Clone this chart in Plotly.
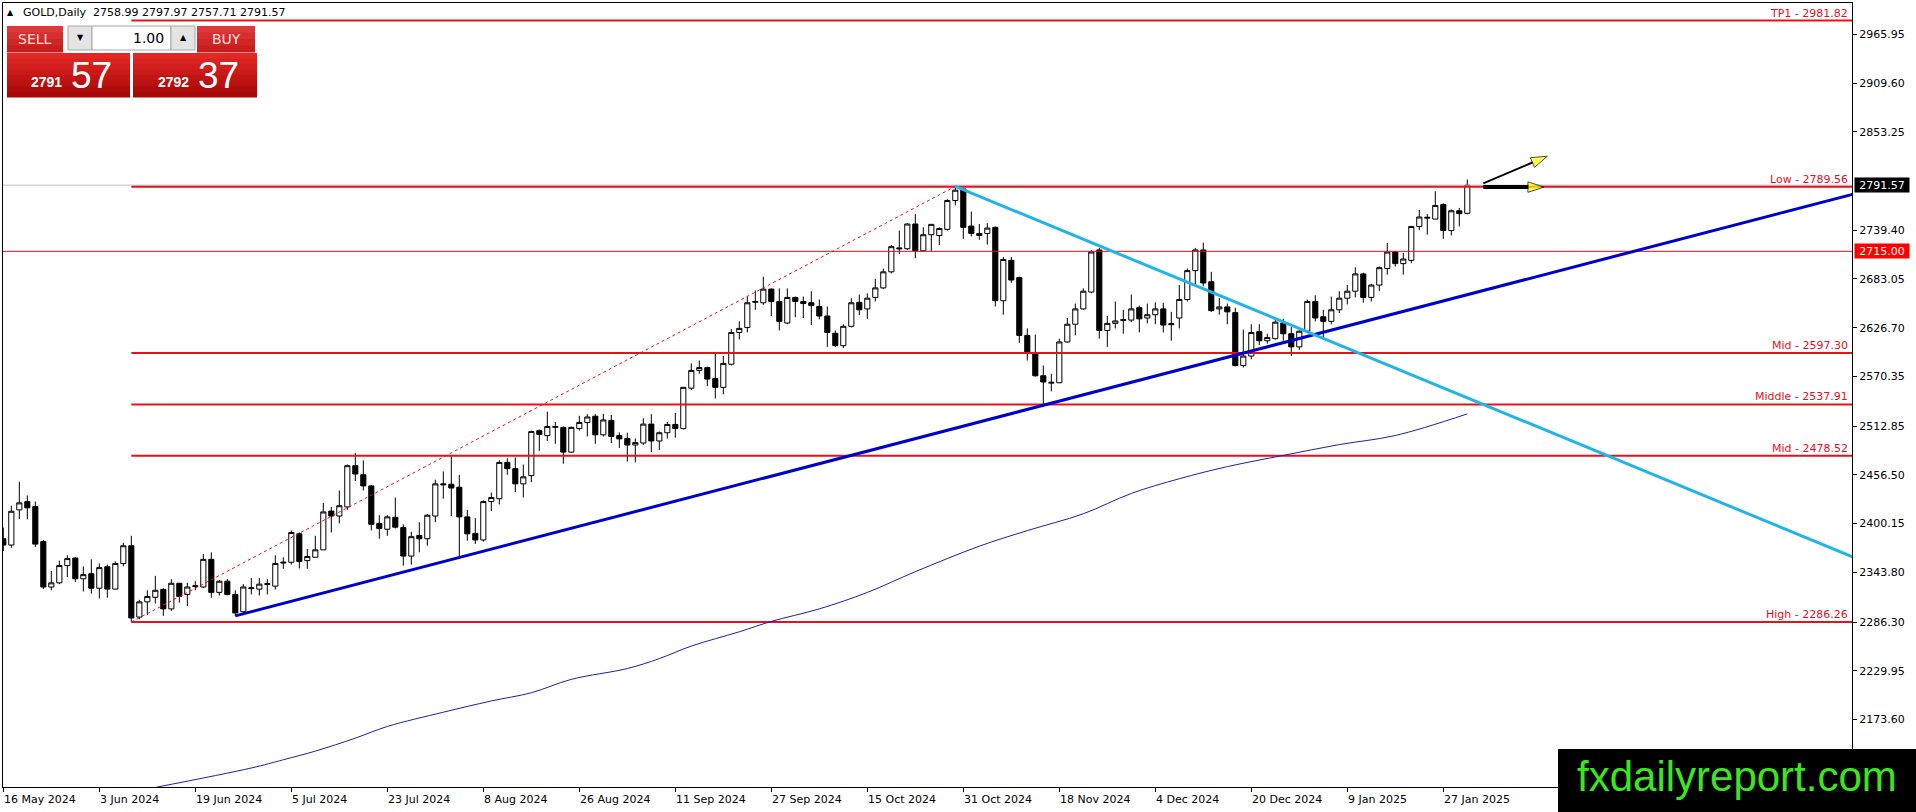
import plotly.graph_objects as go
import pandas as pd

# daily bars, one per weekday from 16 May 2024 (broker closed on the holidays)
start_day = "2024-05-16"
end_day = "2025-01-30"
holidays = ["2024-12-25", "2025-01-01"]

opens = [
    2382.6, 2375.3, 2416.0, 2425.6, 2419.8, 2379.3, 2326.8, 2331.6, 2351.6, 2360.2,
    2336.3, 2342.1, 2325.4, 2350.2, 2324.4, 2354.0, 2374.5, 2292.0, 2309.6, 2314.9,
    2324.0, 2301.5, 2331.1, 2318.2, 2327.3, 2326.8, 2358.8, 2320.6, 2333.5, 2318.2,
    2298.2, 2324.9, 2324.4, 2329.7, 2327.8, 2354.5, 2355.4, 2388.4, 2357.3, 2361.2,
    2369.8, 2414.6, 2408.9, 2419.4, 2467.1, 2456.6, 2443.7, 2400.3, 2393.6, 2407.4,
    2395.5, 2362.6, 2386.4, 2382.6, 2408.9, 2446.1, 2445.6, 2442.2, 2407.9, 2388.8,
    2381.2, 2425.6, 2428.9, 2470.9, 2463.7, 2446.1, 2455.6, 2507.6, 2501.9, 2511.4,
    2511.4, 2482.8, 2510.0, 2517.1, 2524.3, 2502.8, 2519.5, 2501.9, 2498.6, 2491.0,
    2493.3, 2515.2, 2495.7, 2505.2, 2514.8, 2510.0, 2556.8, 2577.3, 2580.6, 2567.8,
    2557.7, 2584.4, 2621.2, 2626.9, 2656.0, 2655.5, 2671.3, 2657.0, 2632.1, 2661.7,
    2657.0, 2655.5, 2651.2, 2640.2, 2620.2, 2605.9, 2628.3, 2656.0, 2648.4, 2661.7,
    2672.7, 2691.3, 2719.0, 2718.0, 2746.6, 2715.6, 2734.2, 2733.3, 2740.4, 2773.8,
    2787.2, 2744.2, 2733.3, 2735.7, 2742.8, 2657.9, 2704.6, 2684.6, 2617.8, 2596.4,
    2571.1, 2562.5, 2563.0, 2610.2, 2630.7, 2648.4, 2667.9, 2716.6, 2623.5, 2631.7,
    2635.0, 2635.5, 2649.8, 2637.9, 2641.7, 2648.4, 2630.2, 2637.9, 2659.3, 2692.7,
    2716.6, 2679.8, 2648.4, 2650.7, 2644.1, 2582.9, 2593.9, 2622.1, 2611.6, 2614.0,
    2632.1, 2619.7, 2604.5, 2622.6, 2657.0, 2639.3, 2634.0, 2647.4, 2660.8, 2668.9,
    2688.9, 2661.7, 2676.0, 2695.1, 2714.2, 2700.8, 2704.6, 2743.8, 2753.3, 2752.3,
    2769.1, 2739.0, 2761.9, 2758.99,
]
highs = [
    2395.5, 2420.8, 2448.5, 2432.7, 2425.6, 2381.2, 2345.4, 2357.3, 2363.5, 2361.2,
    2350.7, 2358.8, 2354.0, 2352.6, 2356.4, 2377.9, 2386.0, 2312.0, 2323.0, 2339.7,
    2325.4, 2335.9, 2331.6, 2331.6, 2333.5, 2365.0, 2366.9, 2334.9, 2335.9, 2323.0,
    2330.1, 2337.3, 2337.3, 2335.9, 2363.5, 2361.2, 2392.2, 2389.8, 2370.7, 2386.0,
    2424.1, 2419.4, 2438.4, 2468.5, 2481.9, 2473.3, 2444.6, 2409.8, 2409.8, 2430.3,
    2399.3, 2390.7, 2401.7, 2411.3, 2450.9, 2460.4, 2478.0, 2456.6, 2416.0, 2406.5,
    2427.0, 2436.1, 2473.3, 2475.6, 2476.6, 2468.5, 2507.6, 2509.0, 2529.6, 2517.6,
    2512.4, 2512.4, 2524.8, 2526.7, 2526.7, 2527.2, 2525.8, 2505.7, 2505.2, 2498.6,
    2521.9, 2526.7, 2506.7, 2517.6, 2528.1, 2558.2, 2585.4, 2588.7, 2581.6, 2598.7,
    2593.9, 2625.0, 2634.0, 2662.7, 2669.8, 2685.6, 2672.2, 2672.2, 2672.2, 2662.7,
    2662.7, 2668.9, 2659.3, 2651.2, 2623.5, 2630.7, 2660.8, 2665.1, 2666.5, 2683.2,
    2695.1, 2722.3, 2739.0, 2747.6, 2758.1, 2742.8, 2746.6, 2742.8, 2775.3, 2790.1,
    2788.1, 2760.9, 2746.6, 2747.6, 2743.8, 2708.5, 2708.5, 2685.6, 2625.9, 2618.8,
    2583.0, 2573.5, 2614.0, 2637.9, 2654.6, 2672.2, 2716.6, 2719.0, 2640.2, 2657.0,
    2647.4, 2665.1, 2652.2, 2654.6, 2656.0, 2655.5, 2645.0, 2676.0, 2695.1, 2719.0,
    2725.0, 2691.3, 2660.8, 2654.6, 2649.8, 2624.5, 2630.7, 2630.7, 2619.7, 2635.5,
    2636.9, 2627.4, 2623.5, 2659.3, 2664.1, 2647.4, 2662.7, 2668.9, 2676.0, 2696.5,
    2690.3, 2677.5, 2697.5, 2724.7, 2715.6, 2713.2, 2744.2, 2762.8, 2758.1, 2784.3,
    2770.5, 2763.3, 2765.2, 2797.97,
]
lows = [
    2368.3, 2372.1, 2405.5, 2405.0, 2373.1, 2324.4, 2323.0, 2330.1, 2338.3, 2332.5,
    2321.6, 2319.2, 2313.5, 2314.4, 2323.9, 2350.7, 2286.3, 2289.6, 2294.4, 2307.7,
    2293.4, 2299.1, 2308.7, 2304.9, 2323.0, 2325.4, 2314.4, 2316.8, 2317.3, 2293.4,
    2296.8, 2318.2, 2316.8, 2318.2, 2323.9, 2347.8, 2352.6, 2348.3, 2347.8, 2361.2,
    2369.8, 2389.8, 2400.3, 2416.0, 2449.4, 2438.4, 2392.2, 2382.6, 2386.0, 2394.5,
    2351.6, 2352.6, 2366.9, 2374.5, 2401.7, 2428.9, 2408.9, 2362.1, 2380.3, 2376.4,
    2379.3, 2414.6, 2422.2, 2456.6, 2436.5, 2430.3, 2448.0, 2484.2, 2495.7, 2492.4,
    2469.5, 2481.9, 2507.6, 2500.9, 2492.4, 2500.9, 2493.3, 2487.6, 2471.8, 2470.9,
    2491.0, 2482.8, 2485.2, 2498.6, 2499.5, 2509.0, 2554.4, 2573.5, 2559.1, 2544.8,
    2549.6, 2583.0, 2613.1, 2621.2, 2647.4, 2653.1, 2640.2, 2623.5, 2630.7, 2638.8,
    2637.9, 2629.8, 2636.4, 2604.5, 2604.5, 2603.0, 2626.9, 2641.2, 2636.9, 2657.0,
    2671.3, 2689.4, 2711.8, 2716.6, 2707.0, 2714.2, 2715.1, 2722.3, 2739.0, 2768.1,
    2729.5, 2732.3, 2728.5, 2722.8, 2651.2, 2641.7, 2678.4, 2609.2, 2588.7, 2570.1,
    2537.0, 2553.0, 2562.5, 2609.2, 2617.8, 2647.4, 2666.5, 2614.0, 2604.5, 2625.9,
    2619.7, 2633.1, 2621.2, 2631.7, 2630.7, 2621.2, 2611.6, 2625.9, 2656.9, 2676.0,
    2674.6, 2645.0, 2641.7, 2630.7, 2582.0, 2580.6, 2590.2, 2606.8, 2608.3, 2613.1,
    2611.6, 2594.0, 2601.1, 2621.2, 2634.0, 2615.0, 2630.7, 2643.6, 2653.6, 2661.7,
    2655.5, 2657.0, 2668.9, 2688.0, 2697.5, 2688.0, 2701.3, 2739.5, 2734.2, 2752.3,
    2729.5, 2733.3, 2743.8, 2757.71,
]
closes = [
    2375.3, 2414.4, 2424.1, 2418.4, 2376.4, 2326.8, 2331.6, 2351.6, 2359.7, 2336.3,
    2341.1, 2325.4, 2349.2, 2324.4, 2354.0, 2374.5, 2291.0, 2309.6, 2315.9, 2323.0,
    2301.5, 2331.1, 2315.9, 2326.8, 2328.2, 2358.8, 2320.6, 2333.5, 2318.2, 2296.8,
    2326.8, 2325.8, 2330.1, 2330.6, 2354.0, 2355.4, 2389.8, 2356.4, 2362.1, 2369.8,
    2413.6, 2408.9, 2420.8, 2467.1, 2457.5, 2443.7, 2399.3, 2394.5, 2407.9, 2396.0,
    2362.6, 2385.0, 2382.6, 2409.8, 2446.1, 2445.1, 2441.3, 2407.9, 2388.3, 2381.2,
    2425.6, 2430.3, 2470.9, 2463.7, 2446.1, 2454.2, 2506.7, 2503.3, 2512.4, 2512.4,
    2482.8, 2511.4, 2517.1, 2523.4, 2502.8, 2520.0, 2500.9, 2498.1, 2491.0, 2493.8,
    2515.2, 2495.7, 2505.2, 2514.8, 2510.0, 2557.7, 2577.3, 2580.6, 2567.3, 2557.7,
    2585.4, 2621.2, 2625.9, 2655.5, 2657.0, 2671.3, 2657.0, 2634.0, 2661.7, 2657.0,
    2654.6, 2652.2, 2640.2, 2621.2, 2605.9, 2628.3, 2655.5, 2647.4, 2660.8, 2672.7,
    2691.3, 2720.4, 2718.0, 2746.6, 2715.6, 2734.2, 2746.2, 2741.4, 2773.8, 2785.7,
    2742.8, 2735.7, 2735.7, 2741.9, 2657.9, 2705.6, 2681.8, 2617.8, 2598.7, 2571.1,
    2563.9, 2563.5, 2610.2, 2630.7, 2648.4, 2668.9, 2714.2, 2623.5, 2631.7, 2634.5,
    2636.0, 2648.4, 2636.9, 2641.7, 2648.4, 2629.8, 2631.2, 2659.3, 2692.7, 2716.6,
    2678.4, 2646.4, 2650.7, 2645.0, 2582.9, 2593.9, 2621.2, 2611.6, 2615.4, 2633.1,
    2619.7, 2604.5, 2622.6, 2657.0, 2637.9, 2634.0, 2647.4, 2660.8, 2668.9, 2688.9,
    2661.7, 2676.0, 2696.1, 2714.2, 2700.8, 2706.1, 2743.8, 2754.7, 2754.3, 2768.1,
    2739.0, 2761.9, 2758.6, 2791.57,
]

# moving average, read at a few bars
ma_x = [19, 31, 35, 39, 44, 48, 55, 61, 66, 71, 78, 82, 86, 92, 96, 102, 108,
        114, 122, 128, 135, 141, 147, 153, 160, 167, 174, 183]
ma_y = [2095.0, 2117.5, 2127.0, 2137.0, 2152.0, 2165.5, 2182.0, 2195.0, 2204.5,
        2220.0, 2232.5, 2244.0, 2258.5, 2275.0, 2287.0, 2301.5, 2320.5, 2344.5,
        2374.0, 2392.0, 2411.5, 2435.0, 2452.0, 2466.0, 2479.0, 2491.5, 2502.0, 2527.0]

# drawn objects (bar index, price)
support_x = [29, 232]
support_y = [2293.4, 2783.0]
resist_x = [119, 232]
resist_y = [2790.1, 2358.4]
swing_x = [16, 119]
swing_y = [2286.26, 2790.1]

level_names = ["TP1", "Low", "Mid", "Middle", "Mid", "High"]
level_prices = [2981.82, 2789.56, 2597.30, 2537.91, 2478.52, 2286.26]
level_start = 16
hline_price = 2715.00

arrow_up_x = [185, 193]
arrow_up_y = [2793.6, 2825.0]
arrow_flat_x = [185, 192.6]
arrow_flat_y = [2789.3, 2789.3]

price_ticks = [2173.60, 2229.95, 2286.30, 2343.80, 2400.15, 2456.50, 2512.85,
               2570.35, 2626.70, 2683.05, 2739.40, 2853.25, 2909.60, 2965.95]

sell_price = 2791.57
buy_price = 2792.37
lot = 1.00

days = pd.bdate_range(start_day, end_day)
days = days[~days.isin(pd.to_datetime(holidays))]
idx = list(range(len(days)))
tick_idx = idx[::12]
tick_text = [f"{d.day} {d.strftime('%b %Y')}" for d in days[::12]]

W, H = 1916, 812
ML, MR, MT, MB = 3, 64, 3, 25


def px(x):
    return (x - ML) / (W - ML - MR)


def py(y):
    return 1 - (y - MT) / (H - MT - MB)


RED = "#E8101C"
fig = go.Figure()

# bid line and the plain horizontal line
fig.add_trace(go.Scatter(x=[-1, 240], y=[closes[-1]] * 2, mode="lines",
                         line=dict(color="#C0C0C0", width=1), hoverinfo="skip"))
fig.add_trace(go.Scatter(x=[-1, 240], y=[hline_price] * 2, mode="lines",
                         line=dict(color=RED, width=1), hoverinfo="skip"))
for p in level_prices:
    fig.add_trace(go.Scatter(x=[level_start, 240], y=[p, p], mode="lines",
                             line=dict(color=RED, width=2), hoverinfo="skip"))

fig.add_trace(go.Scatter(x=swing_x, y=swing_y, mode="lines",
                         line=dict(color=RED, width=1, dash="dot"), hoverinfo="skip"))
fig.add_trace(go.Scatter(x=ma_x, y=ma_y, mode="lines", line_shape="spline",
                         line=dict(color="#1E1EA8", width=1), hoverinfo="skip"))
fig.add_trace(go.Scatter(x=support_x, y=support_y, mode="lines",
                         line=dict(color="#0000CC", width=3), hoverinfo="skip"))
fig.add_trace(go.Scatter(x=resist_x, y=resist_y, mode="lines",
                         line=dict(color="#22B4E6", width=3), hoverinfo="skip"))

fig.add_trace(go.Candlestick(
    x=idx, open=opens, high=highs, low=lows, close=closes,
    increasing=dict(line=dict(color="black", width=1), fillcolor="white"),
    decreasing=dict(line=dict(color="black", width=1), fillcolor="black"),
    whiskerwidth=0, hoverinfo="skip",
))

# arrows with yellow heads
for ax_, ay_, w in [(arrow_up_x, arrow_up_y, 2), (arrow_flat_x, arrow_flat_y, 4)]:
    fig.add_trace(go.Scatter(
        x=ax_, y=ay_, mode="lines+markers", line=dict(color="black", width=w),
        marker=dict(symbol="arrow", size=[0, 17], angleref="previous",
                    color="#FFFF00", line=dict(color="black", width=1)),
        hoverinfo="skip"))

shapes = []
annotations = []

# level labels
for name, p in zip(level_names, level_prices):
    annotations.append(dict(x=1, xref="paper", y=p, yref="y", xanchor="right",
                            yanchor="bottom", xshift=-2, yshift=-1, showarrow=False,
                            text=f"{name} - {p:.2f}", font=dict(color=RED, size=11)))

# price tags on the axis
for p, bg in [(closes[-1], "black"), (hline_price, "#FF0000")]:
    annotations.append(dict(x=1, xref="paper", y=p, yref="y", xanchor="left",
                            yanchor="middle", xshift=2, showarrow=False,
                            text=f"{p:.2f}", bgcolor=bg, width=52, height=12,
                            borderpad=1, font=dict(color="white", size=11)))

# date labels sit right of their tick
for i, t in zip(tick_idx, tick_text):
    annotations.append(dict(x=i, xref="x", y=0, yref="paper", xanchor="left",
                            yanchor="top", xshift=-1, yshift=-4, showarrow=False,
                            text=t, font=dict(size=11)))

# header
o, h, l, c = opens[-1], highs[-1], lows[-1], closes[-1]
annotations.append(dict(x=px(10), y=py(13), xref="paper", yref="paper", showarrow=False,
                        xanchor="center", yanchor="middle", text="▲", font=dict(size=8)))
annotations.append(dict(x=px(21), y=py(13), xref="paper", yref="paper", xanchor="left",
                        yanchor="middle", showarrow=False,
                        text=f"GOLD,Daily  {o:.2f} {h:.2f} {l:.2f} {c:.2f}",
                        font=dict(size=11)))


# one click trading panel
def rect(x0, y0, x1, y1, fill, line=None):
    shapes.append(dict(type="rect", xref="paper", yref="paper", x0=px(x0), x1=px(x1),
                       y0=py(y1), y1=py(y0), fillcolor=fill, layer="above",
                       line=dict(width=1 if line else 0, color=line or fill)))


def gradient(x0, y0, x1, y1, top, bottom, n=8):
    step = (y1 - y0) / n
    for k in range(n):
        f = k / (n - 1)
        col = "rgb(%d,%d,%d)" % tuple(int(a + (b - a) * f) for a, b in zip(top, bottom))
        rect(x0, y0 + k * step, x1, y0 + (k + 1) * step + 0.5, col)


gradient(7, 26, 63, 52, (222, 56, 56), (200, 30, 30), 4)
gradient(197, 26, 255, 52, (222, 56, 56), (200, 30, 30), 4)
rect(68, 26, 92, 50, "#E4E4E4", "#A8A8A8")
rect(92, 26, 171, 50, "white", "#A8A8A8")
rect(171, 26, 195, 50, "#E4E4E4", "#A8A8A8")
gradient(7, 53, 130, 97, (226, 40, 36), (168, 8, 8))
gradient(133, 53, 257, 97, (226, 40, 36), (168, 8, 8))

panel_text = [
    (35, 39, "center", "SELL", 14, "#FBE0E0", "DejaVu Sans"),
    (226, 39, "center", "BUY", 14, "#FBE0E0", "DejaVu Sans"),
    (80, 38, "center", "▼", 8, "black", "DejaVu Sans"),
    (183, 38, "center", "▲", 8, "black", "DejaVu Sans"),
    (166, 38, "right", f"{lot:.2f}", 14, "black", "DejaVu Sans"),
]
sb, ss = f"{sell_price:.2f}".split(".")
bb, bs = f"{buy_price:.2f}".split(".")
panel_text += [
    (64, 82, "right", f"<b>{sb}</b>", 14, "white", "Liberation Sans"),
    (69, 75, "left", ss, 37, "white", "Liberation Sans"),
    (191, 82, "right", f"<b>{bb}</b>", 14, "white", "Liberation Sans"),
    (196, 75, "left", bs, 37, "white", "Liberation Sans"),
]
for x, y, anchor, txt, size, col, fam in panel_text:
    annotations.append(dict(x=px(x), y=py(y), xref="paper", yref="paper", xanchor=anchor,
                            yanchor="middle", showarrow=False, text=txt,
                            font=dict(size=size, color=col, family=fam)))

# watermark
rect(1558, 749, 1925, 820, "black")
annotations.append(dict(x=px(1737), y=py(776), xref="paper", yref="paper", showarrow=False,
                        xanchor="center", yanchor="middle", text="fxdailyreport.com",
                        font=dict(size=42, color="#3CE61E", family="Liberation Sans")))

fig.update_layout(
    width=W, height=H,
    margin=dict(l=ML, r=MR, t=MT, b=MB),
    plot_bgcolor="white", paper_bgcolor="white",
    showlegend=False,
    font=dict(family="DejaVu Sans", size=11, color="black"),
    boxgap=0.2, boxgroupgap=0.2,
    shapes=shapes, annotations=annotations,
    xaxis=dict(range=[-0.04, 231.09], tickvals=tick_idx, ticks="outside", ticklen=4,
               tickcolor="black", showticklabels=False, showgrid=False, zeroline=False,
               showline=True, linecolor="black", linewidth=1, mirror=True,
               rangeslider=dict(visible=False)),
    yaxis=dict(side="right", range=[2095.5, 3002.2], tickvals=price_ticks,
               ticktext=[f"{v:.2f}" for v in price_ticks], ticks="outside", ticklen=4,
               tickcolor="black", showgrid=False, zeroline=False, showline=True,
               linecolor="black", linewidth=1, mirror=True),
)

# page margin off so the figure fills the window exactly
fig.write_html("out.html", config={"displayModeBar": False},
               post_script="document.body.style.margin='0';"
               "document.body.style.overflow='hidden';")
